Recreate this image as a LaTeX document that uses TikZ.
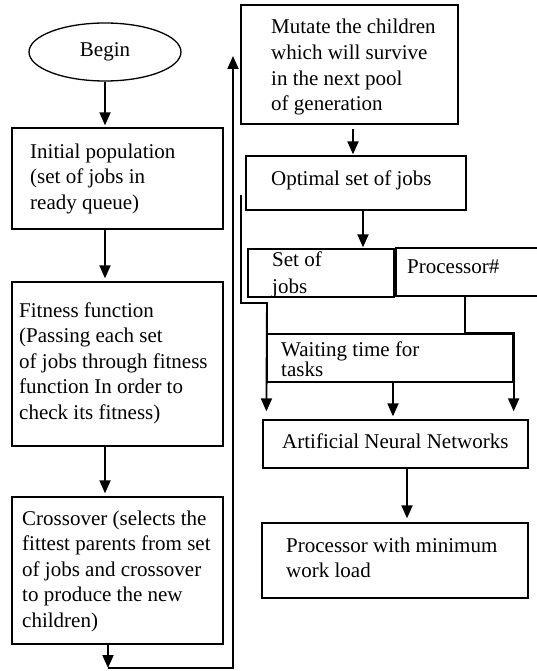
\documentclass[tikz,border=0pt]{standalone}
\usepackage{fontspec}
\setmainfont{Liberation Serif}
\newfontfamily\boxfont{Liberation Serif}
\usetikzlibrary{arrows.meta,shapes.geometric}
\begin{document}
\begin{tikzpicture}[x=1pt,y=-1pt,
  box/.style={draw,line width=1.3pt,rectangle,inner sep=0pt},
  lbl/.style={anchor=base west,inner sep=0pt,font=\boxfont\fontsize{21}{25.6}\selectfont},
  arr/.style={line width=1.9pt,-{Triangle[length=13pt,width=11pt]}},
  wire/.style={line width=1.9pt}]
\useasboundingbox (0,0) rectangle (537,671);
\clip (0,0) rectangle (537,671);

% ---- left column ----
\node[draw,line width=1.3pt,ellipse,minimum width=152pt,minimum height=58pt,inner sep=0pt,
      font=\boxfont\fontsize{21}{25.6}\selectfont] (begin) at (105,52) {Begin};
\node[box,minimum width=211pt,minimum height=101pt] (init)  at (117.5,178.5) {};
\node[box,minimum width=211pt,minimum height=164pt] (fit)   at (117.5,364) {};
\node[box,minimum width=211pt,minimum height=147pt] (cross) at (117.5,570.5) {};

% ---- right column ----
\node[box,minimum width=217pt,minimum height=119pt] (mut)  at (349.5,64.5) {};
\node[box,minimum width=220pt,minimum height=54pt]  (opt)  at (356,183) {};
\node[box,minimum width=146pt,minimum height=48pt]  (soj)  at (321,273) {};
\node[box,minimum width=154pt,minimum height=48pt]  (proc) at (473,272) {};
\node[box,minimum width=246pt,minimum height=48pt]  (wait) at (390,358) {};
\node[box,minimum width=265pt,minimum height=48pt]  (ann)  at (395.5,444) {};
\node[box,minimum width=266pt,minimum height=75pt]  (pmin) at (395,560.5) {};

% ---- texts ----
\node[lbl] (tinit) at (30,158) {\parbox[t]{300pt}{Initial population\\(set of jobs in\\ready queue)}};
\node[lbl] (tfit) at (19,317) {\parbox[t]{300pt}{Fitness function\\(Passing each set\\of jobs through fitness\\function In order to\\check its fitness)}};
\node[lbl] (tcross) at (22,525) {\parbox[t]{300pt}{Crossover (selects the\\fittest parents from set\\of jobs and crossover\\to produce the new\\children)}};
\node[lbl] (tmut) at (271,34) {\parbox[t]{300pt}{Mutate the children\\which will survive\\in the next pool\\of generation}};
\node[lbl] (topt) at (271,185) {Optimal set of jobs};
\node[lbl] (tsoj) at (272,266) {\parbox[t]{200pt}{\baselineskip=27pt Set of\\jobs}};
\node[lbl] (tproc) at (407,273) {Processor\#};
\node[lbl] (twait) at (281,356) {\parbox[t]{300pt}{\baselineskip=20pt Waiting time for\\tasks}};
\node[lbl] (tann) at (282,448) {Artificial Neural Networks};
\node[lbl] (tpmin) at (286,552) {\parbox[t]{300pt}{Processor with minimum\\work load}};

% ---- connectors, left column ----
\draw[arr,shorten >=2pt] (begin.south) -- (begin.south |- init.north);
\draw[arr,shorten >=3pt] (begin.south |- init.south) -- (begin.south |- fit.north);
\draw[arr,shorten >=3pt] (begin.south |- fit.south) -- (begin.south |- cross.north);

% loop back from crossover to mutation
\coordinate (loopbot) at (108,668);
\coordinate (looptop) at (233,56);
\draw[arr] (cross.south -| loopbot) -- (loopbot);
\draw[arr,line join=miter] (loopbot) -| (looptop);

% ---- connectors, right column ----
\draw[arr,shorten <=4pt,shorten >=1pt] ([xshift=3.5pt]mut.south) -- ([xshift=3.5pt]mut.south |- opt.north);
\draw[arr,shorten >=1pt] ([xshift=7pt]opt.south) -- ([xshift=7pt]opt.south |- soj.north);

\coordinate (wstart) at (241,195);
\draw[arr,line join=miter,shorten >=8pt] (wstart) |- ++(26,108) -- (wait.west |- ann.north);
\draw[arr,line join=miter,shorten >=8pt] ([xshift=-8pt]proc.south) |- (wait.north east) -- (wait.east |- ann.north);
\draw[arr,shorten >=3pt] ([xshift=3pt]wait.south) -- ([xshift=3pt]wait.south |- ann.north);
\draw[arr,shorten >=4pt] ([xshift=11.5pt]ann.south) -- ([xshift=11.5pt]ann.south |- pmin.north);
\end{tikzpicture}
\end{document}
